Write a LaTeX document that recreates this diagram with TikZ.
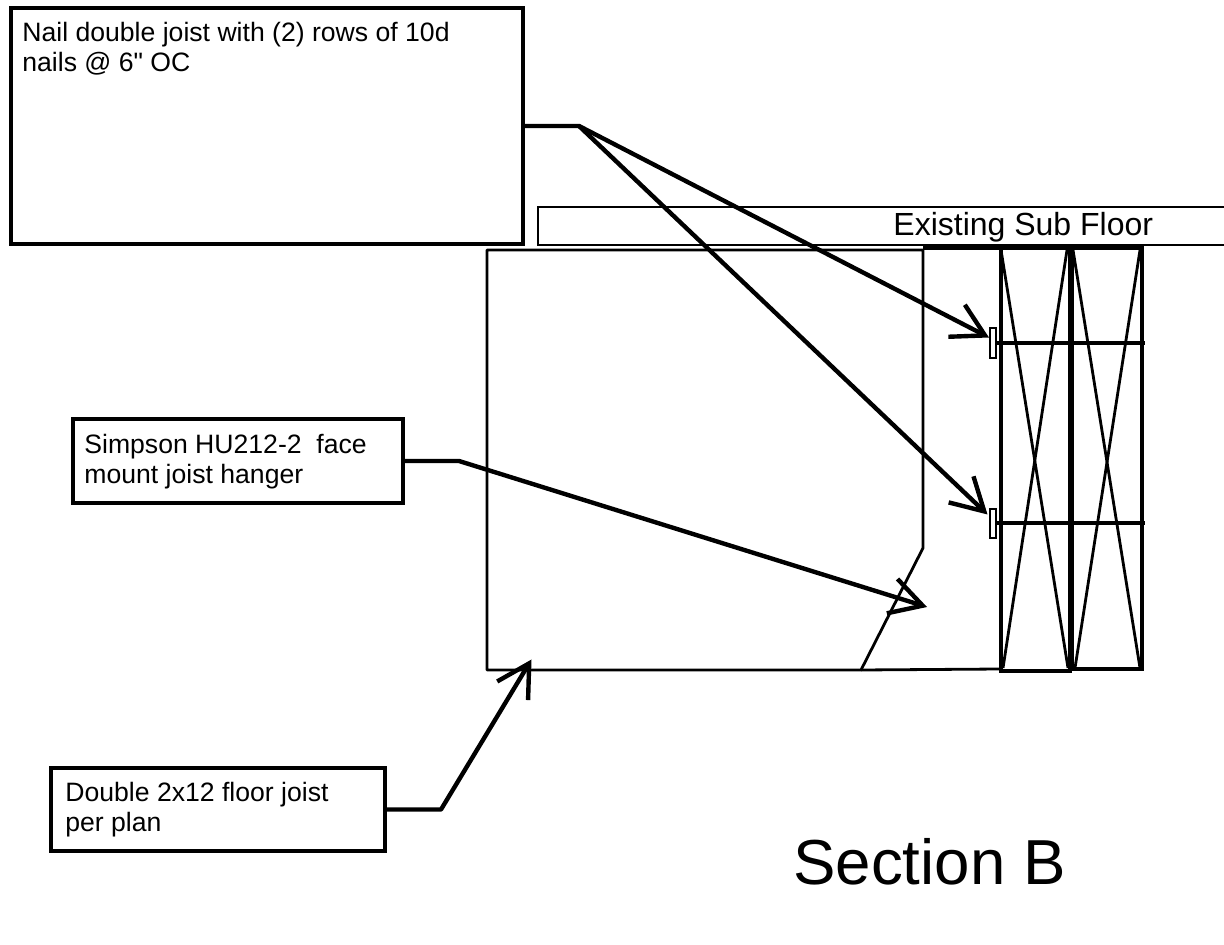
\documentclass[tikz,border=0pt]{standalone}
\usepackage{fontspec}
\setmainfont[Ligatures=TeXOff]{Liberation Sans}
\usetikzlibrary{arrows.meta}

\begin{document}
\begin{tikzpicture}[x=.5pt, y=-.5pt,
    notebox/.style={rectangle, draw, line width=2pt, outer sep=0pt, inner sep=0pt},
    notetext/.style={anchor=north west, inner sep=0pt, align=left, font=\fontsize{13.3}{15}\selectfont},
    leader/.style={line width=2.2pt, line join=round, -{Straight Barb[length=16pt, width=18pt, line width=2.2pt]}},
    thinline/.style={line width=1.4pt},
    member/.style={line width=2pt},
    bolt/.style={line width=2pt},
    washer/.style={line width=1pt}]

    \useasboundingbox (0,0) rectangle (1224,945);

    % joist side view
    \draw[thinline, line join=round] (487,250) -- (923,250) -- (923,548) -- (861,670) -- (487,670) -- cycle;
    \draw[member] (923,248) -- (1000,248);
    \draw[thinline] (861,670) -- (1000,669);

    % double member in section
    \draw[member] (1001,248) rectangle (1070,671);
    \draw[member] (1072,248) rectangle (1142,669);
    \draw[thinline] (1001,250) -- (1068,668);
    \draw[thinline] (1067,250) -- (1003,668);
    \draw[thinline] (1073,250) -- (1140,668);
    \draw[thinline] (1140,250) -- (1075,668);

    % bolts
    \draw[bolt] (997,343) -- (1145,343);
    \draw[bolt] (997,523) -- (1145,523);
    \draw[washer] (990,328) rectangle (996,358);
    \draw[washer] (990,509) rectangle (996,538);

    % sub floor, open at the page edge
    \node[notebox, line width=1.4pt, minimum width=350pt, minimum height=19pt] (floor) at (888,226) {};
    \node[font=\fontsize{16}{16}\selectfont, anchor=base west, inner sep=0pt] (floortxt) at (893,236) {Existing Sub Floor};

    % note boxes
    \node[notebox, line width=2.2pt, minimum width=256pt, minimum height=118pt] (nail) at (267,126) {};
    \node[notebox, minimum width=165pt, minimum height=42pt] (simpson) at (238,461) {};
    \node[notebox, minimum width=167pt, minimum height=41.5pt] (double) at (218,809.5) {};
    \node[notetext] (nailtxt) at (22,22) {Nail double joist with (2) rows of 10d\\nails @ 6" OC};
    \node[notetext] (simpsontxt) at (84,434) {Simpson HU212-2~~face\\mount joist hanger};
    \node[notetext] (doubletxt) at (65,781.5) {Double 2x12 floor joist\\per plan};

    \node[font=\fontsize{31.8}{32}\selectfont, anchor=base west, inner sep=0pt] (title) at (793,884) {Section B};

    % leader ends
    \coordinate (nailbend) at (579,126);
    \coordinate (simpsonbend) at (459,461);
    \coordinate (doublebend) at (441,809.5);
    \coordinate (tipa) at (989,337.5);
    \coordinate (tipb) at (987.5,514.5);
    \coordinate (tipc) at (927,607);
    \coordinate (tipd) at (531.5,659.5);

    \draw[leader] (nail.east) -- (nailbend) -- (tipa);
    \draw[leader] (nailbend) -- (tipb);
    \draw[leader] (simpson.east) -- (simpsonbend) -- (tipc);
    \draw[leader] (double.east) -- (doublebend) -- (tipd);

\end{tikzpicture}
\end{document}
